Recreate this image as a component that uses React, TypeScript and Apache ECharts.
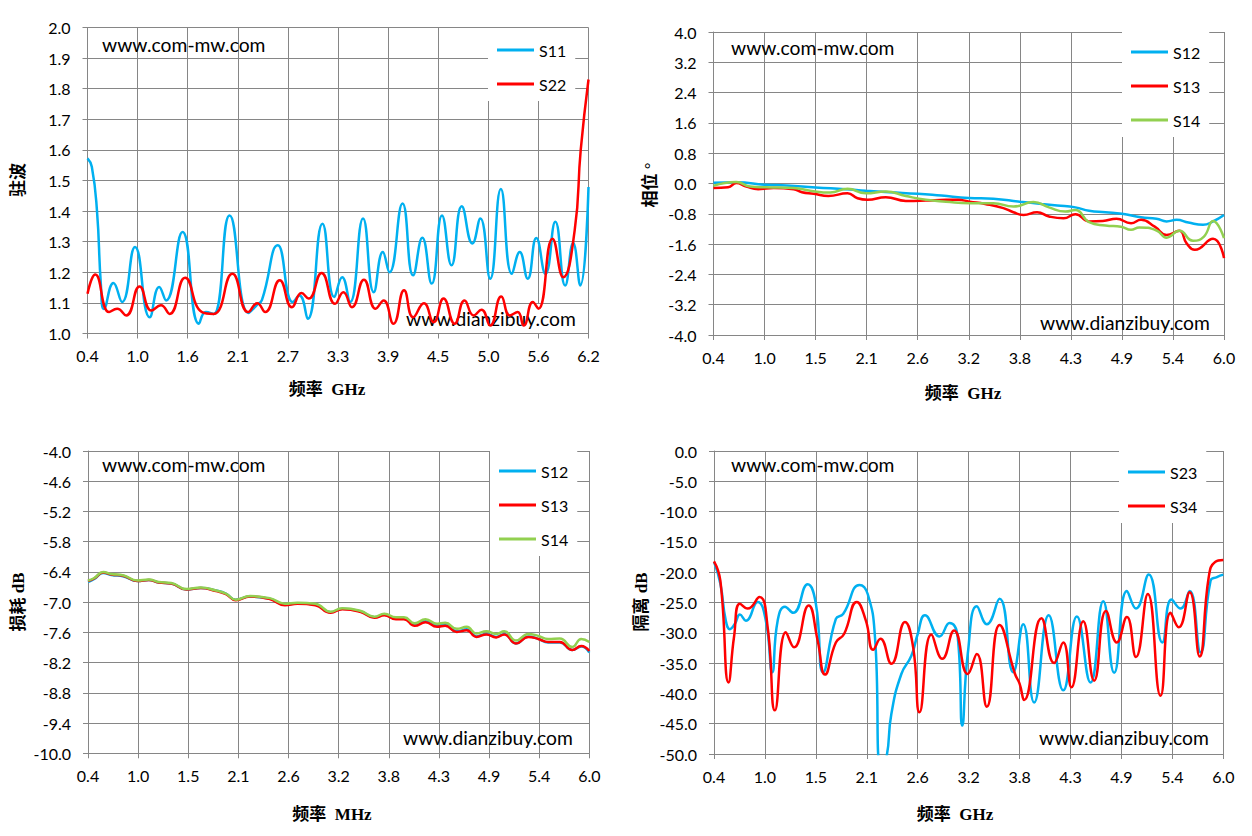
import React, { useEffect, useRef } from 'react';
import * as echarts from 'echarts';

// ---------- tick values & labels ----------
const X1_TICKS = [0.4, 0.98, 1.56, 2.14, 2.72, 3.3, 3.88, 4.46, 5.04, 5.62, 6.2];
const X1_LABELS = ['0.4', '1.0', '1.6', '2.1', '2.7', '3.3', '3.9', '4.5', '5.0', '5.6', '6.2'];
const X_TICKS = [0.4, 0.96, 1.52, 2.08, 2.64, 3.2, 3.76, 4.32, 4.88, 5.44, 6.0];
const X_LABELS = ['0.4', '1.0', '1.5', '2.1', '2.6', '3.2', '3.8', '4.3', '4.9', '5.4', '6.0'];
const Y1_TICKS = [1.0, 1.1, 1.2, 1.3, 1.4, 1.5, 1.6, 1.7, 1.8, 1.9, 2.0];
const Y1_LABELS = ['1.0', '1.1', '1.2', '1.3', '1.4', '1.5', '1.6', '1.7', '1.8', '1.9', '2.0'];
const Y2_TICKS = [-4, -3.2, -2.4, -1.6, -0.8, 0, 0.8, 1.6, 2.4, 3.2, 4];
const Y2_LABELS = ['-4.0', '-3.2', '-2.4', '-1.6', '-0.8', '0.0', '0.8', '1.6', '2.4', '3.2', '4.0'];
const Y3_TICKS = [-10, -9.4, -8.8, -8.2, -7.6, -7, -6.4, -5.8, -5.2, -4.6, -4];
const Y3_LABELS = ['-10.0', '-9.4', '-8.8', '-8.2', '-7.6', '-7.0', '-6.4', '-5.8', '-5.2', '-4.6', '-4.0'];
const Y4_TICKS = [-50, -45, -40, -35, -30, -25, -20, -15, -10, -5, 0];
const Y4_LABELS = ['-50.0', '-45.0', '-40.0', '-35.0', '-30.0', '-25.0', '-20.0', '-15.0', '-10.0', '-5.0', '0.0'];

// ---------- chart 1: VSWR ----------
const S11: number[][] = [
  [0.40, 1.572], [0.45, 1.545], [0.51, 1.40], [0.555, 1.16], [0.59, 1.08], [0.70, 1.165], [0.80, 1.103],
  [0.95, 1.283], [1.12, 1.053], [1.23, 1.152], [1.31, 1.108], [1.50, 1.332], [1.69, 1.032], [1.77, 1.07],
  [1.86, 1.064], [2.045, 1.386], [2.265, 1.067], [2.36, 1.093], [2.42, 1.11], [2.603, 1.288], [2.777, 1.103],
  [2.854, 1.124], [2.95, 1.048], [3.12, 1.359], [3.257, 1.119], [3.348, 1.184], [3.44, 1.103], [3.59, 1.376],
  [3.714, 1.135], [3.819, 1.266], [3.896, 1.20], [4.047, 1.425], [4.17, 1.19], [4.276, 1.313], [4.385, 1.163],
  [4.504, 1.386], [4.614, 1.223], [4.733, 1.416], [4.856, 1.294], [4.948, 1.376], [5.062, 1.179], [5.185, 1.472],
  [5.313, 1.195], [5.404, 1.266], [5.496, 1.179], [5.596, 1.312], [5.702, 1.195], [5.816, 1.365], [5.93, 1.157],
  [6.022, 1.296], [6.104, 1.157], [6.20, 1.479],
];
const S22: number[][] = [
  [0.40, 1.13], [0.49, 1.193], [0.651, 1.07], [0.743, 1.081], [0.848, 1.059], [1.003, 1.154], [1.14, 1.075],
  [1.25, 1.092], [1.35, 1.064], [1.53, 1.182], [1.725, 1.07], [1.86, 1.064], [2.077, 1.195], [2.26, 1.07],
  [2.365, 1.099], [2.457, 1.07], [2.626, 1.174], [2.767, 1.086], [2.877, 1.132], [2.959, 1.114], [3.11, 1.198],
  [3.266, 1.097], [3.362, 1.135], [3.462, 1.086], [3.60, 1.176], [3.736, 1.081], [3.828, 1.108], [3.942, 1.032],
  [4.065, 1.141], [4.17, 1.053], [4.294, 1.099], [4.408, 1.037], [4.522, 1.114], [4.65, 1.032], [4.765, 1.108],
  [4.87, 1.059], [4.961, 1.078], [5.062, 1.026], [5.19, 1.121], [5.29, 1.059], [5.38, 1.07], [5.45, 1.026],
  [5.555, 1.103], [5.62, 1.081], [5.784, 1.31], [5.907, 1.184], [6.04, 1.337], [6.11, 1.60], [6.20, 1.83],
];

// ---------- chart 2: phase ----------
const P12: number[][] = [
  [0.40, 0.02], [0.65, 0.03], [0.98, -0.035], [1.2, -0.05], [1.52, -0.106], [1.85, -0.15], [2.07, -0.19],
  [2.33, -0.23], [2.64, -0.27], [2.9, -0.32], [3.2, -0.38], [3.47, -0.40], [3.76, -0.48], [4.0, -0.54],
  [4.17, -0.58], [4.37, -0.63], [4.52, -0.72], [4.7, -0.76], [4.88, -0.80], [5.09, -0.89], [5.26, -0.93],
  [5.37, -1.0], [5.48, -0.96], [5.61, -1.03], [5.77, -1.09], [5.88, -1.0], [6.0, -0.83],
];
const P13: number[][] = [
  [0.40, -0.12], [0.56, -0.10], [0.65, 0.01], [0.76, -0.08], [0.89, -0.15], [1.06, -0.12], [1.28, -0.15],
  [1.37, -0.23], [1.5, -0.27], [1.66, -0.33], [1.87, -0.26], [1.98, -0.39], [2.09, -0.43], [2.29, -0.36],
  [2.51, -0.46], [2.73, -0.45], [2.95, -0.43], [3.08, -0.43], [3.21, -0.48], [3.38, -0.54], [3.58, -0.65],
  [3.69, -0.76], [3.8, -0.83], [3.95, -0.76], [4.08, -0.87], [4.24, -0.92], [4.37, -0.81], [4.52, -1.0],
  [4.67, -0.99], [4.82, -0.93], [4.98, -1.05], [5.09, -0.96], [5.24, -1.14], [5.37, -1.36], [5.51, -1.25],
  [5.59, -1.58], [5.68, -1.75], [5.88, -1.46], [6.0, -1.97],
];
const P14: number[][] = [
  [0.40, -0.06], [0.65, 0.04], [0.8, -0.08], [0.98, -0.10], [1.28, -0.12], [1.46, -0.19], [1.68, -0.24],
  [1.87, -0.14], [2.07, -0.26], [2.29, -0.21], [2.51, -0.33], [2.73, -0.43], [2.95, -0.48], [3.21, -0.52],
  [3.47, -0.52], [3.69, -0.61], [3.91, -0.49], [4.08, -0.63], [4.26, -0.74], [4.37, -0.70], [4.52, -1.02],
  [4.7, -1.11], [4.87, -1.14], [4.98, -1.22], [5.07, -1.16], [5.26, -1.24], [5.37, -1.43], [5.51, -1.25],
  [5.66, -1.51], [5.78, -1.40], [5.88, -0.99], [6.0, -1.44],
];

// ---------- chart 3: insertion loss ----------
const L12: number[][] = [
  [0.4, -6.60], [0.47, -6.54], [0.57, -6.42], [0.66, -6.46], [0.8, -6.49], [0.95, -6.58], [1.08, -6.56],
  [1.19, -6.61], [1.33, -6.63], [1.5, -6.75], [1.66, -6.72], [1.83, -6.77], [1.94, -6.83], [2.05, -6.95],
  [2.21, -6.89], [2.43, -6.93], [2.6, -7.05], [2.74, -7.02], [2.94, -7.05], [3.11, -7.20], [3.24, -7.13],
  [3.44, -7.18], [3.6, -7.30], [3.71, -7.25], [3.84, -7.33], [3.93, -7.33], [4.05, -7.45], [4.17, -7.38],
  [4.3, -7.47], [4.39, -7.45], [4.52, -7.58], [4.63, -7.54], [4.74, -7.68], [4.85, -7.63], [4.96, -7.69],
  [5.05, -7.63], [5.18, -7.82], [5.32, -7.68], [5.43, -7.73], [5.54, -7.80], [5.67, -7.80], [5.81, -7.95],
  [5.91, -7.88], [6.0, -8.00],
];
const L13: number[][] = [
  [0.4, -6.58], [0.47, -6.53], [0.57, -6.41], [0.66, -6.45], [0.8, -6.48], [0.95, -6.58], [1.08, -6.56],
  [1.19, -6.61], [1.33, -6.63], [1.5, -6.75], [1.66, -6.72], [1.83, -6.78], [1.94, -6.84], [2.05, -6.96],
  [2.21, -6.89], [2.43, -6.94], [2.6, -7.06], [2.74, -7.03], [2.94, -7.06], [3.11, -7.21], [3.24, -7.14],
  [3.44, -7.19], [3.6, -7.31], [3.71, -7.26], [3.84, -7.34], [3.93, -7.34], [4.05, -7.47], [4.17, -7.40],
  [4.3, -7.49], [4.39, -7.47], [4.52, -7.59], [4.63, -7.56], [4.74, -7.69], [4.85, -7.64], [4.96, -7.70],
  [5.05, -7.64], [5.18, -7.82], [5.32, -7.69], [5.43, -7.73], [5.54, -7.79], [5.67, -7.79], [5.81, -7.95],
  [5.91, -7.87], [6.0, -7.97],
];
const L14: number[][] = [
  [0.4, -6.57], [0.47, -6.52], [0.57, -6.40], [0.66, -6.44], [0.8, -6.47], [0.95, -6.57], [1.08, -6.55],
  [1.19, -6.60], [1.33, -6.62], [1.5, -6.74], [1.66, -6.71], [1.83, -6.77], [1.94, -6.83], [2.05, -6.95],
  [2.21, -6.88], [2.43, -6.92], [2.6, -7.03], [2.74, -7.01], [2.94, -7.03], [3.11, -7.19], [3.24, -7.12],
  [3.44, -7.17], [3.6, -7.29], [3.71, -7.23], [3.84, -7.30], [3.93, -7.30], [4.05, -7.42], [4.17, -7.34],
  [4.3, -7.43], [4.39, -7.41], [4.52, -7.53], [4.63, -7.49], [4.74, -7.62], [4.85, -7.58], [4.96, -7.63],
  [5.05, -7.58], [5.18, -7.76], [5.32, -7.63], [5.43, -7.67], [5.54, -7.73], [5.67, -7.72], [5.81, -7.89],
  [5.91, -7.73], [6.0, -7.79],
];

// ---------- chart 4: isolation ----------
const I23: number[][] = [
  [0.40, -18.3], [0.47, -21.9], [0.53, -28.0], [0.575, -29.4], [0.63, -28.5], [0.685, -27.0], [0.75, -28.0],
  [0.88, -24.9], [0.97, -28.0], [1.04, -36.5], [1.10, -28.0], [1.18, -25.7], [1.27, -26.7], [1.43, -22.0],
  [1.52, -25.2], [1.60, -36.5], [1.74, -27.7], [1.82, -26.9], [2.00, -22.1], [2.09, -23.6], [2.17, -30.7],
  [2.23, -51.5], [2.29, -51.0], [2.35, -43.4], [2.46, -36.8], [2.57, -33.8], [2.64, -30.2], [2.72, -27.1],
  [2.88, -30.6], [2.99, -28.4], [3.08, -30.7], [3.13, -45.3], [3.19, -33.5], [3.29, -25.6], [3.40, -28.6],
  [3.54, -24.4], [3.69, -36.5], [3.80, -28.6], [3.92, -41.5], [4.08, -27.1], [4.24, -39.5], [4.39, -27.3],
  [4.54, -38.2], [4.68, -24.8], [4.80, -36.6], [4.94, -23.1], [5.04, -26.0], [5.18, -20.4], [5.33, -31.6],
  [5.43, -24.5], [5.53, -26.0], [5.63, -23.1], [5.75, -33.2], [5.86, -21.4], [5.93, -20.8], [6.00, -20.4],
];
const I34: number[][] = [
  [0.40, -18.2], [0.47, -21.4], [0.56, -38.2], [0.62, -30.7], [0.685, -25.2], [0.77, -26.0], [0.90, -24.1],
  [0.99, -29.1], [1.07, -42.8], [1.19, -29.9], [1.28, -32.4], [1.44, -25.5], [1.54, -31.3], [1.62, -36.9],
  [1.74, -31.6], [1.83, -30.2], [1.97, -24.9], [2.07, -28.0], [2.15, -32.8], [2.23, -31.0], [2.35, -35.1],
  [2.50, -28.2], [2.59, -32.4], [2.66, -43.1], [2.79, -30.3], [2.91, -34.3], [3.04, -29.6], [3.19, -36.8],
  [3.29, -33.5], [3.40, -42.2], [3.54, -28.7], [3.71, -36.8], [3.76, -38.4], [3.81, -41.1], [4.00, -27.6],
  [4.14, -35.0], [4.24, -31.6], [4.33, -39.0], [4.46, -28.1], [4.58, -37.9], [4.71, -26.4], [4.83, -31.6],
  [4.94, -27.4], [5.04, -34.0], [5.17, -23.6], [5.31, -40.4], [5.42, -26.7], [5.51, -29.1], [5.63, -23.3],
  [5.74, -33.9], [5.84, -20.8], [5.91, -18.3], [6.00, -18.0],
];

const BLUE = '#00B0F0';
const RED = '#FF0000';
const GREEN = '#92D050';
const GRID = '#868686';
const FONT = 'Lato';

function labelFor(ticks: number[], labels: string[]) {
  return (v: number) => {
    const i = ticks.findIndex((t) => Math.abs(t - v) < 1e-6);
    return i >= 0 ? labels[i] : '';
  };
}

function xAxis(gridIndex: number, ticks: number[], labels: string[]) {
  return {
    gridIndex,
    type: 'value',
    min: ticks[0],
    max: ticks[ticks.length - 1],
    axisLine: { show: true, onZero: false, lineStyle: { color: GRID, width: 1 } },
    axisTick: { show: true, length: 5, customValues: ticks, lineStyle: { color: GRID, width: 1 } },
    axisLabel: {
      customValues: ticks,
      formatter: labelFor(ticks, labels),
      margin: 14,
      fontSize: 16,
      fontFamily: FONT,
      color: '#000',
    },
    splitLine: { show: true, lineStyle: { color: GRID, width: 1 } },
  };
}

function yAxis(gridIndex: number, ticks: number[], labels: string[]) {
  return {
    gridIndex,
    type: 'value',
    min: ticks[0],
    max: ticks[ticks.length - 1],
    axisLine: { show: true, onZero: false, lineStyle: { color: GRID, width: 1 } },
    axisTick: { show: true, length: 5, customValues: ticks, lineStyle: { color: GRID, width: 1 } },
    axisLabel: {
      customValues: ticks,
      formatter: labelFor(ticks, labels),
      margin: 17,
      fontSize: 16,
      fontFamily: FONT,
      color: '#000',
    },
    splitLine: { show: true, lineStyle: { color: GRID, width: 1 } },
  };
}

function line(name: string, idx: number, data: number[][], color: string) {
  return {
    type: 'line',
    name,
    xAxisIndex: idx,
    yAxisIndex: idx,
    data,
    smooth: 0.5,
    symbol: 'none',
    clip: true,
    lineStyle: { width: 2.5, color },
    itemStyle: { color },
  };
}

function legend(names: string[], left: number, top: number, padTop: number, gap: number) {
  return {
    data: names,
    orient: 'vertical',
    left,
    top,
    padding: [padTop, 9, 9, 9],
    backgroundColor: '#fff',
    icon: 'rect',
    itemWidth: 37,
    itemHeight: 3,
    itemGap: gap,
    selectedMode: false,
    textStyle: { fontSize: 16, fontFamily: FONT, color: '#000', lineHeight: 16 },
  };
}

function wm(text: string, x: number, y: number) {
  return {
    type: 'text',
    x,
    y,
    z: 1,
    style: {
      text,
      font: `19.3px ${FONT}`,
      fill: '#000',
      align: 'left',
      verticalAlign: 'middle',
    },
  };
}

function title(text: string, x: number, y: number, vertical: boolean) {
  return {
    type: 'text',
    x,
    y,
    rotation: vertical ? Math.PI / 2 : 0,
    style: {
      text,
      font: 'bold 17px "Liberation Serif", "Noto Sans CJK SC"',
      fill: '#000',
      align: 'center',
      verticalAlign: 'middle',
    },
  };
}

export default function App() {
  const ref = useRef<HTMLDivElement>(null);
  useEffect(() => {
    document.body.style.margin = '0';
    if (!ref.current) return;
    const chart = echarts.init(ref.current, undefined, { renderer: 'svg' });
    chart.setOption({
      animation: false,
      backgroundColor: '#fff',
      grid: [
        { left: 87.5, top: 27.5, width: 501, height: 306 },
        { left: 713.5, top: 32, width: 510.5, height: 303 },
        { left: 88, top: 451, width: 501.3, height: 302.3 },
        { left: 714, top: 451, width: 509.3, height: 303 },
      ],
      xAxis: [
        xAxis(0, X1_TICKS, X1_LABELS),
        xAxis(1, X_TICKS, X_LABELS),
        xAxis(2, X_TICKS, X_LABELS),
        xAxis(3, X_TICKS, X_LABELS),
      ],
      yAxis: [
        yAxis(0, Y1_TICKS, Y1_LABELS),
        yAxis(1, Y2_TICKS, Y2_LABELS),
        yAxis(2, Y3_TICKS, Y3_LABELS),
        yAxis(3, Y4_TICKS, Y4_LABELS),
      ],
      legend: [
        legend(['S11', 'S22'], 488, 28, 14, 18),
        legend(['S12', 'S13', 'S14'], 1122, 32, 12, 18),
        legend(['S12', 'S13', 'S14'], 490, 451, 12, 18),
        legend(['S23', 'S34'], 1119, 451, 13, 18),
      ],
      series: [
        line('S11', 0, S11, BLUE),
        line('S22', 0, S22, RED),
        line('S12', 1, P12, BLUE),
        line('S13', 1, P13, RED),
        line('S14', 1, P14, GREEN),
        line('S12', 2, L12, BLUE),
        line('S13', 2, L13, RED),
        line('S14', 2, L14, GREEN),
        line('S23', 3, I23, BLUE),
        line('S34', 3, I34, RED),
      ],
      graphic: [
        { type: 'rect', z: 1, shape: { x: 402, y: 304, width: 178, height: 29 }, style: { fill: '#fff' } },
        wm('www.com-mw.com', 102, 44),
        wm('www.dianzibuy.com', 406, 318),
        wm('www.com-mw.com', 731, 47),
        wm('www.dianzibuy.com', 1040, 322),
        wm('www.com-mw.com', 102, 464),
        wm('www.dianzibuy.com', 403, 737),
        wm('www.com-mw.com', 731, 464),
        wm('www.dianzibuy.com', 1039, 737),
        title('驻波', 18, 180, true),
        title('相位 °', 650, 185, true),
        title('损耗 dB', 18, 602, true),
        title('隔离 dB', 641, 602, true),
        title('频率  GHz', 327, 389, false),
        title('频率  GHz', 963, 393, false),
        title('频率  MHz', 332, 814, false),
        title('频率  GHz', 955, 814, false),
      ],
    });
    return () => chart.dispose();
  }, []);
  return <div ref={ref} style={{ width: 1252, height: 836 }} />;
}
